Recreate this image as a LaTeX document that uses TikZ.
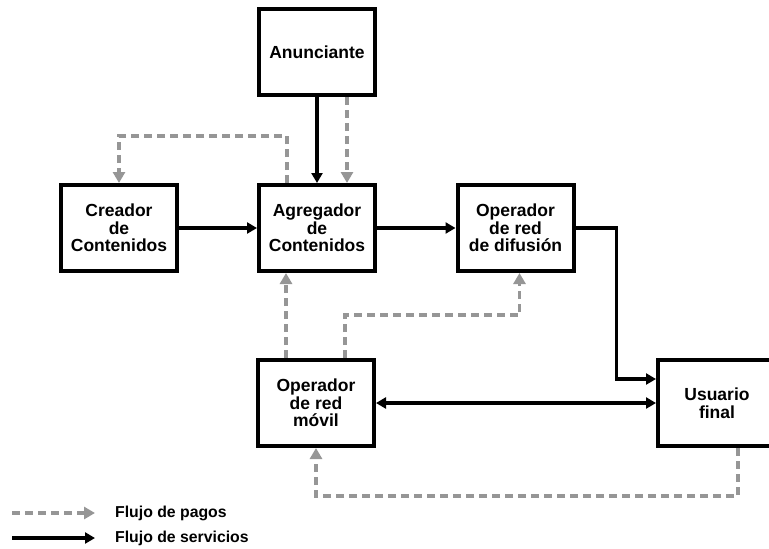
\documentclass[tikz,border=0pt]{standalone}
\usepackage{fontspec}
\setmainfont{Liberation Sans}
\usetikzlibrary{arrows.meta}
\definecolor{pagogray}{RGB}{150,150,150}
\tikzset{
  box/.style={draw=black, line width=4pt, fill=white, minimum width=116pt, minimum height=86pt,
    inner sep=0pt, align=center, font=\fontsize{17.5}{17.5}\selectfont\bfseries},
  serv/.style={draw=black, line width=3.5pt, -{Triangle[length=10pt,width=11pt]}},
  servboth/.style={draw=black, line width=3.5pt, {Triangle[length=10pt,width=11pt]}-{Triangle[length=10pt,width=11pt]}},
  pago/.style={draw=pagogray, line width=3.5pt, dash pattern=on 8pt off 5pt, -{Triangle[length=11pt,width=12pt,fill=pagogray]}},
  legtext/.style={anchor=west, inner sep=0pt, font=\fontsize{15.8}{17}\selectfont\bfseries}
}
\begin{document}
\begin{tikzpicture}[x=1pt, y=-1pt]
\useasboundingbox (0,0) rectangle (769,549);
\node[box] (anun) at (317,52) {Anunciante};
\node[box] (crea) at (119,228) {Creador\\de\\Contenidos};
\node[box] (agr) at (317,228) {Agregador\\de\\Contenidos};
\node[box] (dif) at (515.5,228) {Operador\\de red\\de difusión};
\node[box] (mov) at (316,403) {Operador\\de red\\móvil};
\node[box, minimum width=118pt] (usu) at (717,403) {Usuario\\final};
% services
\draw[serv] (anun.south) -- (anun.south |- agr.north);
\draw[serv] (crea.east) -- (agr.west);
\draw[serv] (agr.east) -- (dif.west);
\draw[serv] (dif.east) -- ++(41,0) |- ([yshift=24pt]usu.west);
\draw[servboth] (mov.east) -- (usu.west);
% payments
\draw[pago] ([xshift=30pt]anun.south) -- ([xshift=30pt]anun.south |- agr.north);
\draw[pago] ([xshift=-30pt]agr.north) -- ++(0,-47) -| (crea.north);
\draw[pago] ([xshift=-30pt]mov.north) -- ([xshift=-30pt]mov.north |- agr.south);
\draw[pago] ([xshift=29pt]mov.north) -- ++(0,-43) -| ([xshift=4pt]dif.south);
\draw[pago] ([xshift=21pt]usu.south) -- ++(0,48) -| (mov.south);
% legend
\coordinate (l1a) at (12,513);
\coordinate (l1b) at (95,513);
\coordinate (l2a) at (12,538);
\coordinate (l2b) at (95,538);
\draw[pago] (l1a) -- (l1b);
\draw[serv] (l2a) -- (l2b);
\node[legtext] (t1) at (115,513) {Flujo de pagos};
\node[legtext] (t2) at (115,538) {Flujo de servicios};
\end{tikzpicture}
\end{document}
